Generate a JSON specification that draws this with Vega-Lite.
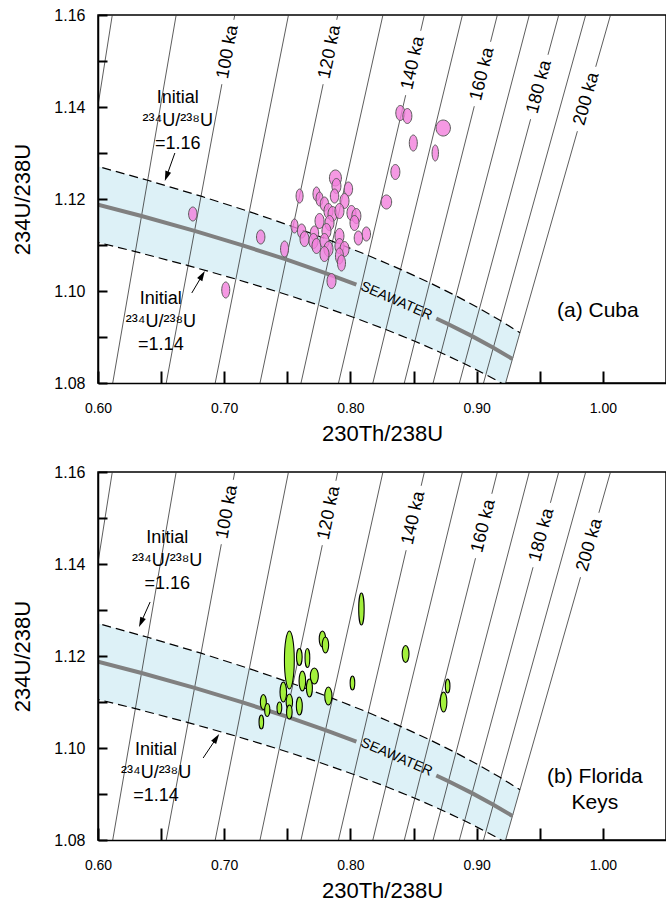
{
"$schema": "https://vega.github.io/schema/vega-lite/v6.json",
"padding": {"left": 11, "top": 6, "right": 0, "bottom": 0},
"spacing": 18,
"config": {
  "font": "Liberation Sans",
  "view": {"stroke": "black", "strokeWidth": 1.5},
  "axis": {"grid": false, "domainColor": "black", "domainWidth": 1.5, "tickColor": "black", "tickWidth": 2, "labelColor": "black", "titleColor": "black", "titleFontWeight": "normal", "labelFont": "Liberation Sans", "titleFont": "Liberation Sans", "labelOverlap": false, "labelFlush": false}
},
"datasets": {
  "curves": [
    {"kind":"upper","i":1,"x":0.59271,"y":1.12762},{"kind":"upper","i":2,"x":0.63936,"y":1.12407},{"kind":"upper","i":3,"x":0.68162,"y":1.12061},{"kind":"upper","i":4,"x":0.71989,"y":1.11725},{"kind":"upper","i":5,"x":0.75451,"y":1.11398},{"kind":"upper","i":6,"x":0.78582,"y":1.1108},{"kind":"upper","i":7,"x":0.81413,"y":1.10772},{"kind":"upper","i":8,"x":0.83968,"y":1.10471},{"kind":"upper","i":9,"x":0.86276,"y":1.1018},{"kind":"upper","i":10,"x":0.88354,"y":1.09896},{"kind":"upper","i":11,"x":0.90227,"y":1.0962},{"kind":"upper","i":12,"x":0.91912,"y":1.09352},{"kind":"upper","i":13,"x":0.93428,"y":1.09092},
    {"kind":"edge","i":14,"x":0.92293,"y":1.08},
    {"kind":"lower","i":1,"x":0.58354,"y":1.11167},{"kind":"lower","i":2,"x":0.62962,"y":1.10856},{"kind":"lower","i":3,"x":0.67139,"y":1.10553},{"kind":"lower","i":4,"x":0.70925,"y":1.10259},{"kind":"lower","i":5,"x":0.74354,"y":1.09973},{"kind":"lower","i":6,"x":0.77459,"y":1.09695},{"kind":"lower","i":7,"x":0.80268,"y":1.09425},{"kind":"lower","i":8,"x":0.82807,"y":1.09162},{"kind":"lower","i":9,"x":0.85103,"y":1.08907},{"kind":"lower","i":10,"x":0.87174,"y":1.08659},{"kind":"lower","i":11,"x":0.89044,"y":1.08418},{"kind":"lower","i":12,"x":0.90728,"y":1.08183},{"kind":"lower","i":13,"x":0.92247,"y":1.07955},
    {"kind":"sea1","i":1,"x":0.6,"y":1.11879},{"kind":"sea1","i":2,"x":0.63449,"y":1.11631},{"kind":"sea1","i":3,"x":0.67651,"y":1.11307},{"kind":"sea1","i":4,"x":0.71457,"y":1.10992},{"kind":"sea1","i":5,"x":0.74903,"y":1.10686},{"kind":"sea1","i":6,"x":0.78021,"y":1.10388},{"kind":"sea1","i":7,"x":0.8047,"y":1.10136},
    {"kind":"sea2","i":1,"x":0.868,"y":1.09401},{"kind":"sea2","i":2,"x":0.87764,"y":1.09277},{"kind":"sea2","i":3,"x":0.89635,"y":1.09019},{"kind":"sea2","i":4,"x":0.9132,"y":1.08768},{"kind":"sea2","i":5,"x":0.92837,"y":1.08523}
  ],
  "iso": [
    {"t":80,"x":0.6,"y":1.14031,"x2":0.61132,"y2":1.16},
    {"t":90,"x":0.61167,"y":1.08,"x2":0.66193,"y2":1.16},
    {"t":110,"x":0.69286,"y":1.08,"x2":0.7509,"y2":1.16},
    {"t":130,"x":0.76083,"y":1.08,"x2":0.82574,"y2":1.16},
    {"t":150,"x":0.81777,"y":1.08,"x2":0.88872,"y2":1.16},
    {"t":170,"x":0.86546,"y":1.08,"x2":0.94173,"y2":1.16},
    {"t":190,"x":0.90543,"y":1.08,"x2":0.98639,"y2":1.16}
  ],
  "isoLab": [
    {"panel":"a","t":100,"x":0.65407,"y":1.08,"x2":0.69814,"y2":1.14496},{"panel":"a","t":100,"x":0.70764,"y":1.15896,"x2":0.70835,"y2":1.16},
    {"panel":"a","t":120,"x":0.72835,"y":1.08,"x2":0.77836,"y2":1.14496},{"panel":"a","t":120,"x":0.78914,"y":1.15896,"x2":0.78994,"y2":1.16},
    {"panel":"a","t":140,"x":0.79056,"y":1.08,"x2":0.84376,"y2":1.14257},{"panel":"a","t":140,"x":0.85567,"y":1.15657,"x2":0.85858,"y2":1.16},
    {"panel":"a","t":160,"x":0.84267,"y":1.08,"x2":0.8981,"y2":1.14017},{"panel":"a","t":160,"x":0.911,"y":1.15417,"x2":0.91637,"y2":1.16},
    {"panel":"a","t":180,"x":0.88633,"y":1.08,"x2":0.94274,"y2":1.13735},{"panel":"a","t":180,"x":0.95651,"y":1.15135,"x2":0.96502,"y2":1.16},
    {"panel":"a","t":200,"x":0.92293,"y":1.08,"x2":0.97979,"y2":1.13474},{"panel":"a","t":200,"x":0.99433,"y":1.14874,"x2":1.00603,"y2":1.16},
    {"panel":"b","t":100,"x":0.65407,"y":1.08,"x2":0.69769,"y2":1.1443},{"panel":"b","t":100,"x":0.70719,"y":1.1583,"x2":0.70835,"y2":1.16},
    {"panel":"b","t":120,"x":0.72835,"y":1.08,"x2":0.77769,"y2":1.14409},{"panel":"b","t":120,"x":0.78847,"y":1.15809,"x2":0.78994,"y2":1.16},
    {"panel":"b","t":140,"x":0.79056,"y":1.08,"x2":0.84413,"y2":1.143},{"panel":"b","t":140,"x":0.85603,"y":1.157,"x2":0.85858,"y2":1.16},
    {"panel":"b","t":160,"x":0.84267,"y":1.08,"x2":0.8991,"y2":1.14126},{"panel":"b","t":160,"x":0.912,"y":1.15526,"x2":0.91637,"y2":1.16},
    {"panel":"b","t":180,"x":0.88633,"y":1.08,"x2":0.94466,"y2":1.1393},{"panel":"b","t":180,"x":0.95843,"y":1.1533,"x2":0.96502,"y2":1.16},
    {"panel":"b","t":200,"x":0.92293,"y":1.08,"x2":0.98227,"y2":1.13713},{"panel":"b","t":200,"x":0.99682,"y":1.15113,"x2":1.00603,"y2":1.16}
  ],
  "isoText": [
    {"panel":"a","t":100,"x":0.70289,"y":1.15196,"label":"100 ka"},{"panel":"a","t":120,"x":0.78375,"y":1.15196,"label":"120 ka"},{"panel":"a","t":140,"x":0.84971,"y":1.14957,"label":"140 ka"},{"panel":"a","t":160,"x":0.90455,"y":1.14717,"label":"160 ka"},{"panel":"a","t":180,"x":0.94963,"y":1.14435,"label":"180 ka"},{"panel":"a","t":200,"x":0.98706,"y":1.14174,"label":"200 ka"},
    {"panel":"b","t":100,"x":0.70244,"y":1.1513,"label":"100 ka"},{"panel":"b","t":120,"x":0.78308,"y":1.15109,"label":"120 ka"},{"panel":"b","t":140,"x":0.85008,"y":1.15,"label":"140 ka"},{"panel":"b","t":160,"x":0.90555,"y":1.14826,"label":"160 ka"},{"panel":"b","t":180,"x":0.95155,"y":1.1463,"label":"180 ka"},{"panel":"b","t":200,"x":0.98954,"y":1.14413,"label":"200 ka"}
  ],
  "cuba": [
    {"x":0.6751,"y":1.11674,"ey":0.00152,"aspect":"0.6"},{"x":0.7012,"y":1.10022,"ey":0.00174,"aspect":"0.5"},{"x":0.7289,"y":1.11174,"ey":0.00152,"aspect":"0.6"},{"x":0.7478,"y":1.10913,"ey":0.00174,"aspect":"0.5"},{"x":0.785,"y":1.10217,"ey":0.00163,"aspect":"0.6"},{"x":0.8285,"y":1.11935,"ey":0.00152,"aspect":"0.75"},{"x":0.8395,"y":1.1387,"ey":0.00163,"aspect":"0.6"},{"x":0.8451,"y":1.13804,"ey":0.00163,"aspect":"0.6"},{"x":0.8735,"y":1.13543,"ey":0.00174,"aspect":"0.9"},{"x":0.8498,"y":1.13217,"ey":0.00174,"aspect":"0.5"},{"x":0.8672,"y":1.13,"ey":0.00174,"aspect":"0.4"},{"x":0.8356,"y":1.12587,"ey":0.00163,"aspect":"0.6"},{"x":0.8126,"y":1.11239,"ey":0.00152,"aspect":"0.6"},{"x":0.8063,"y":1.11152,"ey":0.00152,"aspect":"0.6"},
    {"x":0.7597,"y":1.12065,"ey":0.00152,"aspect":"0.5"},{"x":0.7731,"y":1.12109,"ey":0.00152,"aspect":"0.5"},{"x":0.7755,"y":1.12,"ey":0.00152,"aspect":"0.5"},{"x":0.7881,"y":1.12457,"ey":0.00174,"aspect":"0.75"},{"x":0.7889,"y":1.12283,"ey":0.00163,"aspect":"0.6"},{"x":0.7984,"y":1.12217,"ey":0.00152,"aspect":"0.6"},{"x":0.7874,"y":1.12065,"ey":0.00152,"aspect":"0.6"},{"x":0.7953,"y":1.11957,"ey":0.00163,"aspect":"0.6"},{"x":0.7794,"y":1.11891,"ey":0.00152,"aspect":"0.6"},{"x":0.7826,"y":1.11739,"ey":0.00163,"aspect":"0.6"},{"x":0.7858,"y":1.11674,"ey":0.00163,"aspect":"0.6"},{"x":0.7913,"y":1.11739,"ey":0.00163,"aspect":"0.6"},{"x":0.8008,"y":1.11696,"ey":0.00163,"aspect":"0.6"},{"x":0.8047,"y":1.1163,"ey":0.00163,"aspect":"0.6"},{"x":0.8032,"y":1.11478,"ey":0.00163,"aspect":"0.6"},{"x":0.7755,"y":1.11522,"ey":0.00163,"aspect":"0.6"},{"x":0.7834,"y":1.11478,"ey":0.00163,"aspect":"0.6"},{"x":0.7557,"y":1.11413,"ey":0.00152,"aspect":"0.5"},{"x":0.7613,"y":1.11304,"ey":0.00152,"aspect":"0.6"},{"x":0.7636,"y":1.1113,"ey":0.00163,"aspect":"0.6"},{"x":0.7715,"y":1.11261,"ey":0.00152,"aspect":"0.6"},{"x":0.781,"y":1.11304,"ey":0.00163,"aspect":"0.6"},{"x":0.7913,"y":1.11196,"ey":0.00163,"aspect":"0.6"},{"x":0.7707,"y":1.11087,"ey":0.00163,"aspect":"0.6"},{"x":0.7731,"y":1.10978,"ey":0.00163,"aspect":"0.6"},{"x":0.7794,"y":1.11087,"ey":0.00163,"aspect":"0.6"},{"x":0.7826,"y":1.10913,"ey":0.00163,"aspect":"0.6"},{"x":0.7794,"y":1.10804,"ey":0.00163,"aspect":"0.6"},{"x":0.7913,"y":1.10978,"ey":0.00163,"aspect":"0.6"},{"x":0.7953,"y":1.10913,"ey":0.00163,"aspect":"0.6"},{"x":0.7913,"y":1.10761,"ey":0.00174,"aspect":"0.5"},{"x":0.7929,"y":1.10609,"ey":0.00174,"aspect":"0.5"}
  ],
  "florida": [
    {"x":0.7516,"y":1.11913,"ey":0.0063,"aspect":"0.17"},{"x":0.7778,"y":1.1237,"ey":0.00174,"aspect":"0.4"},{"x":0.7802,"y":1.12239,"ey":0.00174,"aspect":"0.4"},{"x":0.8087,"y":1.13022,"ey":0.00348,"aspect":"0.17"},{"x":0.8437,"y":1.12043,"ey":0.00185,"aspect":"0.4"},{"x":0.8016,"y":1.11413,"ey":0.00152,"aspect":"0.33"},{"x":0.877,"y":1.11348,"ey":0.00152,"aspect":"0.33"},{"x":0.8738,"y":1.11,"ey":0.00217,"aspect":"0.33"},{"x":0.7595,"y":1.11978,"ey":0.00185,"aspect":"0.33"},{"x":0.7659,"y":1.11957,"ey":0.00207,"aspect":"0.25"},{"x":0.7714,"y":1.11565,"ey":0.00174,"aspect":"0.5"},{"x":0.7619,"y":1.11457,"ey":0.00217,"aspect":"0.33"},{"x":0.7675,"y":1.11304,"ey":0.00196,"aspect":"0.33"},{"x":0.7825,"y":1.1113,"ey":0.00196,"aspect":"0.4"},{"x":0.7468,"y":1.11217,"ey":0.00217,"aspect":"0.33"},{"x":0.7516,"y":1.11,"ey":0.00174,"aspect":"0.4"},{"x":0.7595,"y":1.10913,"ey":0.00196,"aspect":"0.33"},{"x":0.7437,"y":1.1087,"ey":0.0013,"aspect":"0.4"},{"x":0.7516,"y":1.10783,"ey":0.00152,"aspect":"0.4"},{"x":0.731,"y":1.11,"ey":0.00163,"aspect":"0.4"},{"x":0.7341,"y":1.10826,"ey":0.00141,"aspect":"0.4"},{"x":0.7294,"y":1.10565,"ey":0.00152,"aspect":"0.33"}
  ]
},
"vconcat": [
{
  "width": 568, "height": 368,
  "encoding": {
    "x": {"field": "x", "type": "quantitative", "scale": {"domain": [0.6, 1.05], "nice": false, "zero": false},
      "axis": {"zindex": 2, "title": "230Th/238U", "values": [0.6,0.65,0.7,0.75,0.8,0.85,0.9,0.95,1.0], "labelExpr": "round(datum.value*100) % 10 == 0 ? format(datum.value, '.2f') : ''", "tickSize": -12, "labelPadding": 30, "labelFontSize": 14, "titleFontSize": 22, "titlePadding": 8}},
    "y": {"field": "y", "type": "quantitative", "scale": {"domain": [1.08, 1.16], "nice": false, "zero": false},
      "axis": {"zindex": 2, "title": "234U/238U", "values": [1.08,1.09,1.1,1.11,1.12,1.13,1.14,1.15,1.16], "labelExpr": "round(datum.value*100) % 2 == 0 ? format(datum.value, '.2f') : ''", "tickSize": -9, "labelPadding": 22, "labelFontSize": 16, "titleFontSize": 22, "titlePadding": 19}}
  },
  "layer": [
    {"data": {"name": "curves"}, "transform": [{"filter": "datum.kind == 'upper' || datum.kind == 'edge'"}], "mark": {"type": "area", "color": "#ddf1f7", "clip": true}, "encoding": {"order": {"value": null}}},
    {"data": {"name": "curves"}, "transform": [{"filter": "datum.kind == 'lower'"}], "mark": {"type": "area", "color": "white", "clip": true}, "encoding": {"order": {"value": null}}},
    {"data": {"name": "iso"}, "mark": {"type": "rule", "stroke": "#333333", "strokeWidth": 0.8, "clip": true}, "encoding": {"x2": {"field": "x2"}, "y2": {"field": "y2"}}},
    {"data": {"name": "isoLab"}, "transform": [{"filter": "datum.panel == 'a'"}], "mark": {"type": "rule", "stroke": "#333333", "strokeWidth": 0.8, "clip": true}, "encoding": {"x2": {"field": "x2"}, "y2": {"field": "y2"}}},
    {"data": {"name": "curves"}, "transform": [{"filter": "datum.kind == 'upper' || datum.kind == 'lower'"}], "mark": {"type": "line", "stroke": "black", "strokeWidth": 1.2, "strokeDash": [9, 5], "clip": true}, "encoding": {"detail": {"field": "kind", "type": "nominal"}}},
    {"data": {"name": "curves"}, "transform": [{"filter": "datum.kind == 'sea1' || datum.kind == 'sea2'"}], "mark": {"type": "line", "stroke": "#808080", "strokeWidth": 4, "clip": true}, "encoding": {"detail": {"field": "kind", "type": "nominal"}}},
    {"data": {"values": [{"x": 0.8364, "y": 1.0978, "label": "SEAWATER"}]}, "mark": {"type": "text", "fontSize": 14, "angle": 23.4, "align": "center", "baseline": "middle", "color": "black"}, "encoding": {"text": {"field": "label", "type": "nominal"}}},
    {"data": {"name": "cuba"}, "mark": {"type": "point", "filled": true, "fill": "#f27fdc", "fillOpacity": 0.8, "stroke": "#5a5a5a", "strokeWidth": 1, "strokeOpacity": 1, "opacity": 1},
      "encoding": {
        "shape": {"field": "aspect", "type": "nominal", "legend": null, "scale": {"domain": ["0.9","0.75","0.6","0.5","0.4","0.33","0.25","0.17"], "range": [
          "M0,-1C0.497,-1,0.9,-0.552,0.9,0C0.9,0.552,0.497,1,0,1C-0.497,1,-0.9,0.552,-0.9,0C-0.9,-0.552,-0.497,-1,0,-1Z",
          "M0,-1C0.414,-1,0.75,-0.552,0.75,0C0.75,0.552,0.414,1,0,1C-0.414,1,-0.75,0.552,-0.75,0C-0.75,-0.552,-0.414,-1,0,-1Z",
          "M0,-1C0.331,-1,0.6,-0.552,0.6,0C0.6,0.552,0.331,1,0,1C-0.331,1,-0.6,0.552,-0.6,0C-0.6,-0.552,-0.331,-1,0,-1Z",
          "M0,-1C0.276,-1,0.5,-0.552,0.5,0C0.5,0.552,0.276,1,0,1C-0.276,1,-0.5,0.552,-0.5,0C-0.5,-0.552,-0.276,-1,0,-1Z",
          "M0,-1C0.221,-1,0.4,-0.552,0.4,0C0.4,0.552,0.221,1,0,1C-0.221,1,-0.4,0.552,-0.4,0C-0.4,-0.552,-0.221,-1,0,-1Z",
          "M0,-1C0.182,-1,0.33,-0.552,0.33,0C0.33,0.552,0.182,1,0,1C-0.182,1,-0.33,0.552,-0.33,0C-0.33,-0.552,-0.182,-1,0,-1Z",
          "M0,-1C0.138,-1,0.25,-0.552,0.25,0C0.25,0.552,0.138,1,0,1C-0.138,1,-0.25,0.552,-0.25,0C-0.25,-0.552,-0.138,-1,0,-1Z",
          "M0,-1C0.094,-1,0.17,-0.552,0.17,0C0.17,0.552,0.094,1,0,1C-0.094,1,-0.17,0.552,-0.17,0C-0.17,-0.552,-0.094,-1,0,-1Z"]}},
        "size": {"field": "ey", "type": "quantitative", "legend": null, "scale": {"type": "pow", "exponent": 2, "domain": [0, 0.01], "range": [0, 8464]}}
      }},
    {"data": {"name": "isoText"}, "transform": [{"filter": "datum.panel == 'a'"}], "mark": {"type": "text", "fontSize": 18, "align": "center", "baseline": "middle", "color": "black"},
      "encoding": {"text": {"field": "label", "type": "nominal"}, "angle": {"field": "t", "type": "quantitative", "legend": null, "scale": {"domain": [100, 200], "range": [-79.4, -74.1]}}}},
    {"data": {"values": [{"x": 0.6632, "y": 1.14196, "label": "Initial\n²³⁴U/²³⁸U\n=1.16"}, {"x": 0.6498, "y": 1.09826, "label": "Initial\n²³⁴U/²³⁸U\n=1.14"}]}, "mark": {"type": "text", "fontSize": 18, "lineHeight": 23, "lineBreak": "\n", "align": "center", "baseline": "middle", "color": "black"}, "encoding": {"text": {"field": "label", "type": "nominal"}}},
    {"data": {"values": [{"x": 0.6609, "y": 1.13, "x2": 0.6543, "y2": 1.12493}, {"x": 0.6743, "y": 1.09957, "x2": 0.6826, "y2": 1.10341}]}, "mark": {"type": "rule", "stroke": "black", "strokeWidth": 1}, "encoding": {"x2": {"field": "x2"}, "y2": {"field": "y2"}}},
    {"data": {"values": [{"x": 0.6543, "y": 1.12493}]}, "mark": {"type": "point", "shape": "M0,-1L0.6,1L-0.6,1Z", "size": 100, "filled": true, "color": "black", "opacity": 1, "angle": 200}},
    {"data": {"values": [{"x": 0.6826, "y": 1.10341}]}, "mark": {"type": "point", "shape": "M0,-1L0.6,1L-0.6,1Z", "size": 100, "filled": true, "color": "black", "opacity": 1, "angle": 30.6}},
    {"data": {"values": [{"x": 0.996, "y": 1.09565, "label": "(a) Cuba"}]}, "mark": {"type": "text", "fontSize": 21, "align": "center", "baseline": "middle", "color": "black"}, "encoding": {"text": {"field": "label", "type": "nominal"}}}
  ]
},
{
  "width": 568, "height": 368,
  "encoding": {
    "x": {"field": "x", "type": "quantitative", "scale": {"domain": [0.6, 1.05], "nice": false, "zero": false},
      "axis": {"zindex": 2, "title": "230Th/238U", "values": [0.6,0.65,0.7,0.75,0.8,0.85,0.9,0.95,1.0], "labelExpr": "round(datum.value*100) % 10 == 0 ? format(datum.value, '.2f') : ''", "tickSize": -12, "labelPadding": 30, "labelFontSize": 14, "titleFontSize": 22, "titlePadding": 8}},
    "y": {"field": "y", "type": "quantitative", "scale": {"domain": [1.08, 1.16], "nice": false, "zero": false},
      "axis": {"zindex": 2, "title": "234U/238U", "values": [1.08,1.09,1.1,1.11,1.12,1.13,1.14,1.15,1.16], "labelExpr": "round(datum.value*100) % 2 == 0 ? format(datum.value, '.2f') : ''", "tickSize": -9, "labelPadding": 22, "labelFontSize": 16, "titleFontSize": 22, "titlePadding": 19}}
  },
  "layer": [
    {"data": {"name": "curves"}, "transform": [{"filter": "datum.kind == 'upper' || datum.kind == 'edge'"}], "mark": {"type": "area", "color": "#ddf1f7", "clip": true}, "encoding": {"order": {"value": null}}},
    {"data": {"name": "curves"}, "transform": [{"filter": "datum.kind == 'lower'"}], "mark": {"type": "area", "color": "white", "clip": true}, "encoding": {"order": {"value": null}}},
    {"data": {"name": "iso"}, "mark": {"type": "rule", "stroke": "#333333", "strokeWidth": 0.8, "clip": true}, "encoding": {"x2": {"field": "x2"}, "y2": {"field": "y2"}}},
    {"data": {"name": "isoLab"}, "transform": [{"filter": "datum.panel == 'b'"}], "mark": {"type": "rule", "stroke": "#333333", "strokeWidth": 0.8, "clip": true}, "encoding": {"x2": {"field": "x2"}, "y2": {"field": "y2"}}},
    {"data": {"name": "curves"}, "transform": [{"filter": "datum.kind == 'upper' || datum.kind == 'lower'"}], "mark": {"type": "line", "stroke": "black", "strokeWidth": 1.2, "strokeDash": [9, 5], "clip": true}, "encoding": {"detail": {"field": "kind", "type": "nominal"}}},
    {"data": {"name": "curves"}, "transform": [{"filter": "datum.kind == 'sea1' || datum.kind == 'sea2'"}], "mark": {"type": "line", "stroke": "#808080", "strokeWidth": 4, "clip": true}, "encoding": {"detail": {"field": "kind", "type": "nominal"}}},
    {"data": {"values": [{"x": 0.8365, "y": 1.098, "label": "SEAWATER"}]}, "mark": {"type": "text", "fontSize": 14, "angle": 23.4, "align": "center", "baseline": "middle", "color": "black"}, "encoding": {"text": {"field": "label", "type": "nominal"}}},
    {"data": {"name": "florida"}, "mark": {"type": "point", "filled": true, "fill": "#a3f03c", "fillOpacity": 1, "stroke": "black", "strokeWidth": 1.1, "strokeOpacity": 1, "opacity": 1},
      "encoding": {
        "shape": {"field": "aspect", "type": "nominal", "legend": null, "scale": {"domain": ["0.9","0.75","0.6","0.5","0.4","0.33","0.25","0.17"], "range": [
          "M0,-1C0.497,-1,0.9,-0.552,0.9,0C0.9,0.552,0.497,1,0,1C-0.497,1,-0.9,0.552,-0.9,0C-0.9,-0.552,-0.497,-1,0,-1Z",
          "M0,-1C0.414,-1,0.75,-0.552,0.75,0C0.75,0.552,0.414,1,0,1C-0.414,1,-0.75,0.552,-0.75,0C-0.75,-0.552,-0.414,-1,0,-1Z",
          "M0,-1C0.331,-1,0.6,-0.552,0.6,0C0.6,0.552,0.331,1,0,1C-0.331,1,-0.6,0.552,-0.6,0C-0.6,-0.552,-0.331,-1,0,-1Z",
          "M0,-1C0.276,-1,0.5,-0.552,0.5,0C0.5,0.552,0.276,1,0,1C-0.276,1,-0.5,0.552,-0.5,0C-0.5,-0.552,-0.276,-1,0,-1Z",
          "M0,-1C0.221,-1,0.4,-0.552,0.4,0C0.4,0.552,0.221,1,0,1C-0.221,1,-0.4,0.552,-0.4,0C-0.4,-0.552,-0.221,-1,0,-1Z",
          "M0,-1C0.182,-1,0.33,-0.552,0.33,0C0.33,0.552,0.182,1,0,1C-0.182,1,-0.33,0.552,-0.33,0C-0.33,-0.552,-0.182,-1,0,-1Z",
          "M0,-1C0.138,-1,0.25,-0.552,0.25,0C0.25,0.552,0.138,1,0,1C-0.138,1,-0.25,0.552,-0.25,0C-0.25,-0.552,-0.138,-1,0,-1Z",
          "M0,-1C0.094,-1,0.17,-0.552,0.17,0C0.17,0.552,0.094,1,0,1C-0.094,1,-0.17,0.552,-0.17,0C-0.17,-0.552,-0.094,-1,0,-1Z"]}},
        "size": {"field": "ey", "type": "quantitative", "legend": null, "scale": {"type": "pow", "exponent": 2, "domain": [0, 0.01], "range": [0, 8464]}}
      }},
    {"data": {"name": "isoText"}, "transform": [{"filter": "datum.panel == 'b'"}], "mark": {"type": "text", "fontSize": 18, "align": "center", "baseline": "middle", "color": "black"},
      "encoding": {"text": {"field": "label", "type": "nominal"}, "angle": {"field": "t", "type": "quantitative", "legend": null, "scale": {"domain": [100, 200], "range": [-79.4, -74.1]}}}},
    {"data": {"values": [{"x": 0.6548, "y": 1.14565, "label": "Initial\n²³⁴U/²³⁸U\n=1.16"}, {"x": 0.646, "y": 1.09957, "label": "Initial\n²³⁴U/²³⁸U\n=1.14"}]}, "mark": {"type": "text", "fontSize": 18, "lineHeight": 23, "lineBreak": "\n", "align": "center", "baseline": "middle", "color": "black"}, "encoding": {"text": {"field": "label", "type": "nominal"}}},
    {"data": {"values": [{"x": 0.6413, "y": 1.13174, "x2": 0.6341, "y2": 1.1273}, {"x": 0.6833, "y": 1.09783, "x2": 0.6938, "y2": 1.10213}]}, "mark": {"type": "rule", "stroke": "black", "strokeWidth": 1}, "encoding": {"x2": {"field": "x2"}, "y2": {"field": "y2"}}},
    {"data": {"values": [{"x": 0.6341, "y": 1.1273}]}, "mark": {"type": "point", "shape": "M0,-1L0.6,1L-0.6,1Z", "size": 100, "filled": true, "color": "black", "opacity": 1, "angle": 203.8}},
    {"data": {"values": [{"x": 0.6938, "y": 1.10213}]}, "mark": {"type": "point", "shape": "M0,-1L0.6,1L-0.6,1Z", "size": 100, "filled": true, "color": "black", "opacity": 1, "angle": 33.7}},
    {"data": {"values": [{"x": 0.9937, "y": 1.0937, "label": "(b) Florida\nKeys"}]}, "mark": {"type": "text", "fontSize": 21, "lineHeight": 26, "lineBreak": "\n", "align": "center", "baseline": "middle", "color": "black"}, "encoding": {"text": {"field": "label", "type": "nominal"}}}
  ]
}
]
}
